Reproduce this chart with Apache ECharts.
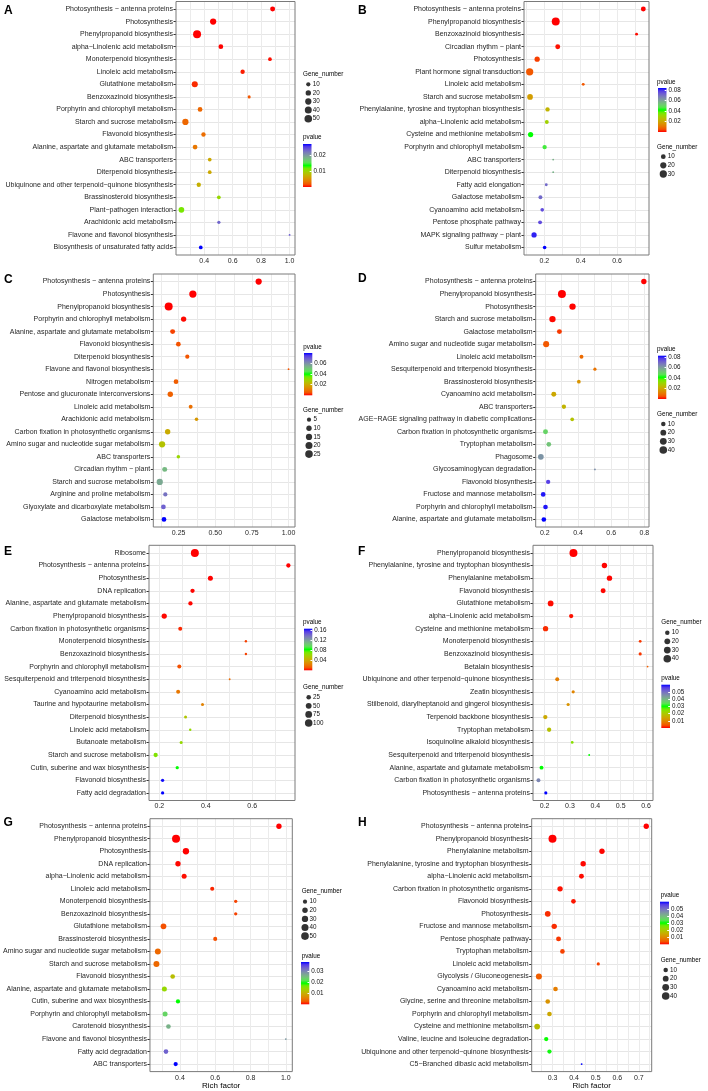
<!DOCTYPE html>
<html><head><meta charset="utf-8">
<script src="https://cdn.jsdelivr.net/npm/echarts@6/dist/echarts.min.js"></script>
<style>html,body{margin:0;padding:0;background:#fff}#c{width:708px;height:1091px}</style>
</head><body><div id="c"></div>
<script>
const M = '\u2212';
// ---------- Panel A ----------
const catsA = ['Photosynthesis '+M+' antenna proteins','Photosynthesis','Phenylpropanoid biosynthesis','alpha'+M+'Linolenic acid metabolism','Monoterpenoid biosynthesis','Linoleic acid metabolism','Glutathione metabolism','Benzoxazinoid biosynthesis','Porphyrin and chlorophyll metabolism','Starch and sucrose metabolism','Flavonoid biosynthesis','Alanine, aspartate and glutamate metabolism','ABC transporters','Diterpenoid biosynthesis','Ubiquinone and other terpenoid'+M+'quinone biosynthesis','Brassinosteroid biosynthesis','Plant'+M+'pathogen interaction','Arachidonic acid metabolism','Flavone and flavonol biosynthesis','Biosynthesis of unsaturated fatty acids'];
const richA = [0.881,0.463,0.350,0.517,0.862,0.670,0.334,0.716,0.371,0.268,0.395,0.336,0.439,0.439,0.362,0.503,0.240,0.503,1.0,0.376];
const geneA = [16,30,56,14,7,11,27,4,14,30,11,14,7,7,11,7,23,5,2,7];
const pA = [0.00001,0.00001,0.00001,0.00005,0.0003,0.0006,0.0009,0.0019,0.0027,0.0027,0.003,0.0035,0.0067,0.0067,0.0072,0.0104,0.0117,0.0235,0.024,0.0275];
const xTicksA = [0.2,0.4,0.6,0.8,1.0];
const sizeBreaksA = [10,20,30,40,50];
const pBreaksA = [0.01,0.02];
// ---------- Panel B ----------
const catsB = ['Photosynthesis '+M+' antenna proteins','Phenylpropanoid biosynthesis','Benzoxazinoid biosynthesis','Circadian rhythm '+M+' plant','Photosynthesis','Plant hormone signal transduction','Linoleic acid metabolism','Starch and sucrose metabolism','Phenylalanine, tyrosine and tryptophan biosynthesis','alpha'+M+'Linolenic acid metabolism','Cysteine and methionine metabolism','Porphyrin and chlorophyll metabolism','ABC transporters','Diterpenoid biosynthesis','Fatty acid elongation','Galactose metabolism','Cyanoamino acid metabolism','Pentose phosphate pathway','MAPK signaling pathway '+M+' plant','Sulfur metabolism'];
const richB = [0.744,0.263,0.707,0.274,0.161,0.120,0.414,0.122,0.218,0.214,0.125,0.202,0.249,0.249,0.211,0.179,0.189,0.177,0.144,0.202];
const geneB = [11,38,3,11,13,30,3,16,8,6,13,8,2,2,3,6,5,6,13,5];
const pB = [0.00001,0.00001,0.0008,0.001,0.004,0.006,0.006,0.018,0.023,0.030,0.042,0.046,0.057,0.057,0.071,0.071,0.076,0.076,0.081,0.084];
const xTicksB = [0.2,0.4,0.6];
const sizeBreaksB = [10,20,30];
const pBreaksB = [0.02,0.04,0.06,0.08];
// ---------- Panel C ----------
const catsC = ['Photosynthesis '+M+' antenna proteins','Photosynthesis','Phenylpropanoid biosynthesis','Porphyrin and chlorophyll metabolism','Alanine, aspartate and glutamate metabolism','Flavonoid biosynthesis','Diterpenoid biosynthesis','Flavone and flavonol biosynthesis','Nitrogen metabolism','Pentose and glucuronate interconversions','Linoleic acid metabolism','Arachidonic acid metabolism','Carbon fixation in photosynthetic organisms','Amino sugar and nucleotide sugar metabolism','ABC transporters','Circadian rhythm '+M+' plant','Starch and sucrose metabolism','Arginine and proline metabolism','Glyoxylate and dicarboxylate metabolism','Galactose metabolism'];
const richC = [0.796,0.347,0.182,0.284,0.209,0.248,0.309,1.0,0.232,0.193,0.332,0.372,0.175,0.137,0.248,0.155,0.121,0.159,0.146,0.150];
const geneC = [15,22,28,10,8,7,5,1,7,10,4,3,10,15,3,8,15,5,7,7];
const pC = [0.00001,0.00001,0.00001,0.0005,0.004,0.005,0.0055,0.0055,0.0065,0.007,0.009,0.016,0.020,0.025,0.030,0.053,0.056,0.066,0.069,0.080];
const xTicksC = [0.25,0.5,0.75,1.0];
const sizeBreaksC = [5,10,15,20,25];
const pBreaksC = [0.02,0.04,0.06];
// ---------- Panel D ----------
const catsD = ['Photosynthesis '+M+' antenna proteins','Phenylpropanoid biosynthesis','Photosynthesis','Starch and sucrose metabolism','Galactose metabolism','Amino sugar and nucleotide sugar metabolism','Linoleic acid metabolism','Sesquiterpenoid and triterpenoid biosynthesis','Brassinosteroid biosynthesis','Cyanoamino acid metabolism','ABC transporters','AGE'+M+'RAGE signaling pathway in diabetic complications','Carbon fixation in photosynthetic organisms','Tryptophan metabolism','Phagosome','Glycosaminoglycan degradation','Flavonoid biosynthesis','Fructose and mannose metabolism','Porphyrin and chlorophyll metabolism','Alanine, aspartate and glutamate metabolism'];
const richD = [0.797,0.303,0.367,0.246,0.288,0.208,0.421,0.502,0.405,0.254,0.315,0.365,0.204,0.224,0.176,0.502,0.220,0.190,0.204,0.194];
const geneD = [16,45,25,25,13,22,7,4,6,13,9,6,13,11,19,2,9,11,11,11];
const pD = [0.00001,0.00001,0.0002,0.0005,0.0036,0.006,0.0086,0.010,0.016,0.020,0.0227,0.026,0.050,0.053,0.062,0.063,0.077,0.081,0.081,0.083];
const xTicksD = [0.2,0.4,0.6,0.8];
const sizeBreaksD = [10,20,30,40];
const pBreaksD = [0.02,0.04,0.06,0.08];
// ---------- Panel E ----------
const catsE = ['Ribosome','Photosynthesis '+M+' antenna proteins','Photosynthesis','DNA replication','Alanine, aspartate and glutamate metabolism','Phenylpropanoid biosynthesis','Carbon fixation in photosynthetic organisms','Monoterpenoid biosynthesis','Benzoxazinoid biosynthesis','Porphyrin and chlorophyll metabolism','Sesquiterpenoid and triterpenoid biosynthesis','Cyanoamino acid metabolism','Taurine and hypotaurine metabolism','Diterpenoid biosynthesis','Linoleic acid metabolism','Butanoate metabolism','Starch and sucrose metabolism','Cutin, suberine and wax biosynthesis','Flavonoid biosynthesis','Fatty acid degradation'];
const richE = [0.353,0.756,0.420,0.343,0.334,0.221,0.290,0.573,0.573,0.286,0.503,0.281,0.386,0.313,0.333,0.294,0.184,0.277,0.214,0.214];
const geneE = [115,20,32,20,20,38,16,3,3,16,2,16,6,6,3,6,20,8,8,8];
const pE = [0.00001,0.00001,0.0002,0.0005,0.0008,0.001,0.005,0.008,0.008,0.010,0.017,0.021,0.025,0.053,0.063,0.063,0.068,0.083,0.163,0.165];
const xTicksE = [0.2,0.4,0.6];
const sizeBreaksE = [25,50,75,100];
const pBreaksE = [0.04,0.08,0.12,0.16];
// ---------- Panel F ----------
const catsF = ['Phenylpropanoid biosynthesis','Phenylalanine, tyrosine and tryptophan biosynthesis','Phenylalanine metabolism','Flavonoid biosynthesis','Glutathione metabolism','alpha'+M+'Linolenic acid metabolism','Cysteine and methionine metabolism','Monoterpenoid biosynthesis','Benzoxazinoid biosynthesis','Betalain biosynthesis','Ubiquinone and other terpenoid'+M+'quinone biosynthesis','Zeatin biosynthesis','Stilbenoid, diarylheptanoid and gingerol biosynthesis','Terpenoid backbone biosynthesis','Tryptophan metabolism','Isoquinoline alkaloid biosynthesis','Sesquiterpenoid and triterpenoid biosynthesis','Alanine, aspartate and glutamate metabolism','Carbon fixation in photosynthetic organisms','Photosynthesis '+M+' antenna proteins'];
const richF = [0.314,0.436,0.456,0.431,0.224,0.305,0.204,0.577,0.577,0.606,0.250,0.313,0.293,0.203,0.218,0.309,0.376,0.188,0.176,0.205];
const geneF = [45,16,16,13,19,9,16,3,4,2,7,4,4,9,9,3,2,7,7,4];
const pF = [0.00001,0.0002,0.0002,0.0003,0.0005,0.0008,0.002,0.0025,0.0025,0.005,0.0085,0.0095,0.0115,0.0145,0.0185,0.024,0.030,0.030,0.047,0.060];
const xTicksF = [0.2,0.3,0.4,0.5,0.6];
const sizeBreaksF = [10,20,30,40];
const pBreaksF = [0.01,0.02,0.03,0.04,0.05];
// ---------- Panel G ----------
const catsG = ['Photosynthesis '+M+' antenna proteins','Phenylpropanoid biosynthesis','Photosynthesis','DNA replication','alpha'+M+'Linolenic acid metabolism','Linoleic acid metabolism','Monoterpenoid biosynthesis','Benzoxazinoid biosynthesis','Glutathione metabolism','Brassinosteroid biosynthesis','Amino sugar and nucleotide sugar metabolism','Starch and sucrose metabolism','Flavonoid biosynthesis','Alanine, aspartate and glutamate metabolism','Cutin, suberine and wax biosynthesis','Porphyrin and chlorophyll metabolism','Carotenoid biosynthesis','Flavone and flavonol biosynthesis','Fatty acid degradation','ABC transporters'];
const richG = [0.961,0.378,0.434,0.389,0.424,0.583,0.716,0.716,0.307,0.600,0.275,0.267,0.359,0.312,0.389,0.316,0.335,1.0,0.321,0.376];
const geneG = [19,55,30,19,16,9,5,5,23,9,26,26,13,16,10,16,13,2,13,10];
const pG = [0.00001,0.00001,0.00005,0.0002,0.0004,0.0011,0.0019,0.0019,0.0023,0.0023,0.0038,0.0038,0.0114,0.0144,0.019,0.0228,0.0258,0.028,0.0327,0.038];
const xTicksG = [0.4,0.6,0.8,1.0];
const sizeBreaksG = [10,20,30,40,50];
const pBreaksG = [0.01,0.02,0.03];
// ---------- Panel H ----------
const catsH = ['Photosynthesis '+M+' antenna proteins','Phenylpropanoid biosynthesis','Phenylalanine metabolism','Phenylalanine, tyrosine and tryptophan biosynthesis','alpha'+M+'Linolenic acid metabolism','Carbon fixation in photosynthetic organisms','Flavonoid biosynthesis','Photosynthesis','Fructose and mannose metabolism','Pentose phosphate pathway','Tryptophan metabolism','Linoleic acid metabolism','Glycolysis / Gluconeogenesis','Cyanoamino acid metabolism','Glycine, serine and threonine metabolism','Porphyrin and chlorophyll metabolism','Cysteine and methionine metabolism','Valine, leucine and isoleucine degradation','Ubiquinone and other terpenoid'+M+'quinone biosynthesis','C5'+M+'Branched dibasic acid metabolism'];
const richH = [0.734,0.300,0.529,0.442,0.434,0.335,0.397,0.278,0.308,0.328,0.346,0.512,0.237,0.314,0.278,0.286,0.229,0.271,0.286,0.435];
const geneH = [16,45,16,16,13,16,11,19,16,13,11,4,22,11,11,11,19,9,9,2];
const pH = [0.00001,0.00001,0.0002,0.0003,0.0005,0.0008,0.001,0.002,0.002,0.0025,0.003,0.003,0.005,0.0085,0.0115,0.0145,0.018,0.030,0.031,0.0605];
const xTicksH = [0.3,0.4,0.5,0.6,0.7];
const sizeBreaksH = [10,20,30,40];
const pBreaksH = [0.01,0.02,0.03,0.04,0.05];

const panels = [
  {id:'A', cats:catsA, rich:richA, gene:geneA, p:pA, xTicks:xTicksA, sizeBreaks:sizeBreaksA, pBreaks:pBreaksA},
  {id:'B', cats:catsB, rich:richB, gene:geneB, p:pB, xTicks:xTicksB, sizeBreaks:sizeBreaksB, pBreaks:pBreaksB},
  {id:'C', cats:catsC, rich:richC, gene:geneC, p:pC, xTicks:xTicksC, sizeBreaks:sizeBreaksC, pBreaks:pBreaksC},
  {id:'D', cats:catsD, rich:richD, gene:geneD, p:pD, xTicks:xTicksD, sizeBreaks:sizeBreaksD, pBreaks:pBreaksD},
  {id:'E', cats:catsE, rich:richE, gene:geneE, p:pE, xTicks:xTicksE, sizeBreaks:sizeBreaksE, pBreaks:pBreaksE},
  {id:'F', cats:catsF, rich:richF, gene:geneF, p:pF, xTicks:xTicksF, sizeBreaks:sizeBreaksF, pBreaks:pBreaksF},
  {id:'G', cats:catsG, rich:richG, gene:geneG, p:pG, xTicks:xTicksG, sizeBreaks:sizeBreaksG, pBreaks:pBreaksG},
  {id:'H', cats:catsH, rich:richH, gene:geneH, p:pH, xTicks:xTicksH, sizeBreaks:sizeBreaksH, pBreaks:pBreaksH}
];

// ---------- layout (pixels) ----------
const layout = {
  A:{plot:[176,1.5,295,255], letter:[4,11], sTitle:[303,74], sKey:[308.3,84.3,8.6], pTitle:[303,137.7], pBar:[303,144,8.5,43], dec:1},
  B:{plot:[524,1.5,649,255], letter:[358,10.5], pTitle:[657,82], pBar:[658,88,8.5,44], sTitle:[657,147], sKey:[663.3,156.7,8.65], dec:1},
  C:{plot:[153.3,274,295,527], letter:[4,279.5], pTitle:[303.3,347], pBar:[304,353,8.3,42.3], sTitle:[303,410.7], sKey:[309,419.7,8.6], dec:2},
  D:{plot:[535.7,274,649,527], letter:[358,279], pTitle:[657,349.7], pBar:[658,355.7,8.3,43.3], sTitle:[657,414], sKey:[663.3,424,8.67], dec:1},
  E:{plot:[149,545.3,295,800.5], letter:[4,552], pTitle:[303,622], pBar:[304,628.7,8.3,41.6], sTitle:[303,687], sKey:[308.7,697.3,8.57], dec:1},
  F:{plot:[533,545.3,653,800.5], letter:[358,552], sTitle:[661.3,622], sKey:[667.3,632.7,8.67], pTitle:[661.3,678.7], pBar:[661.3,684.7,8.7,43.3], dec:1},
  G:{plot:[147.7,818.7,292.3,1073.5], letter:[3.5,823], sTitle:[301.7,891.7], sKey:[305,901.7,8.6], pTitle:[301.7,956], pBar:[301,962,8.3,42.3], dec:1, xName:'Rich factor'},
  H:{plot:[531.7,818.7,651.7,1073.5], letter:[358,823], pTitle:[660.7,895.3], pBar:[660,901.7,9,42.6], sTitle:[660.7,960], sKey:[665.7,970,8.67], dec:1, xName:'Rich factor'}
};

const FONT = '"Liberation Sans", Arial, Helvetica, sans-serif';
const PAL = ['#FF0000','#F45300','#E87600','#DA9200','#C9AB00','#B3C200','#98D700','#70EB00','#00FF00','#57E44F','#6FC972','#7BAE8D','#7D93A6','#7978BD','#6C5BD3','#533AE9','#0000FF'];
const stops = PAL.map((c,i)=>({offset:i/(PAL.length-1), color:c}));
const TXT = '#262626';

const grid=[], xAxis=[], yAxis=[], series=[], visualMap=[], graphic=[];

panels.forEach(P => {
  const L = layout[P.id];
  const n = P.cats.length;
  const gmin = Math.min(...P.gene), gmax = Math.max(...P.gene);
  const sz = g => 1.23*(1.5 + 5*Math.sqrt(Math.max(0,(g-gmin)/(gmax-gmin))));
  const rmin = Math.min(...P.rich), rmax = Math.max(...P.rich), rs = rmax - rmin;
  const xmin = rmin - 0.05*rs, xmax = rmax + 0.05*rs;
  const half = (P.xTicks[1]-P.xTicks[0])/2;
  const gridVals = [];
  for (let k = -1; ; k++) {
    const v = +(P.xTicks[0] + k*half).toFixed(5);
    if (v > xmax) break;
    if (v >= xmin) gridVals.push(v);
  }
  const pmin = Math.min(...P.p), pmax = Math.max(...P.p);

  // main plot
  const gi = grid.length;
  grid.push({left:L.plot[0], top:L.plot[1], width:L.plot[2]-L.plot[0], height:L.plot[3]-L.plot[1],
    show:true, z:10, backgroundColor:'transparent', borderColor:'#7a7a7a', borderWidth:1});
  xAxis.push({gridIndex:gi, type:'value', min:xmin, max:xmax,
    axisLine:{show:false}, splitLine:{show:false},
    axisTick:{show:true, customValues:P.xTicks, length:2.5, lineStyle:{color:'#333', width:1}},
    axisLabel:{customValues:P.xTicks, formatter:v=>(+v).toFixed(L.dec), fontSize:7, fontFamily:FONT, color:TXT, margin:2.5},
    name:L.xName||'', nameLocation:'middle', nameGap:9.5,
    nameTextStyle:{fontSize:8, fontFamily:FONT, color:'#000', verticalAlign:'top'}});
  const yIdx = P.cats.map((c,i)=>i);
  yAxis.push({gridIndex:gi, type:'value', inverse:true, min:-0.6, max:n-0.4, splitNumber:n, minInterval:1, maxInterval:1,
    axisLine:{show:false},
    axisTick:{show:true, customValues:yIdx, length:2.5, lineStyle:{color:'#333', width:1}},
    splitLine:{show:true, lineStyle:{color:'#e6e6e6', width:1.2}},
    axisLabel:{customValues:yIdx, formatter:v=>P.cats[Math.round(v)]||'', fontSize:7, fontFamily:FONT, color:TXT, margin:3}});
  series.push({type:'scatter', xAxisIndex:gi, yAxisIndex:gi, z:3,
    data:P.cats.map((c,i)=>[P.rich[i], i, P.p[i], P.gene[i]]),
    symbolSize:d=>sz(d[3]), itemStyle:{opacity:1}, emphasis:{disabled:true}, animation:false,
    markLine:{silent:true, z:1, symbol:['none','none'], animation:false, label:{show:false}, emphasis:{disabled:true},
      lineStyle:{color:'#ebebeb', width:1, type:'solid'}, data:gridVals.map(v=>({xAxis:v}))}});
  visualMap.push({type:'continuous', show:false, seriesIndex:series.length-1, dimension:2, min:pmin, max:pmax, inRange:{color:PAL}});

  // size legend
  const si = grid.length;
  grid.push({left:L.sKey[0]-3, top:L.sKey[1]-L.sKey[2]/2, width:6, height:L.sKey[2]*P.sizeBreaks.length});
  xAxis.push({gridIndex:si, type:'value', min:-1, max:1, show:false});
  yAxis.push({gridIndex:si, type:'category', inverse:true, position:'right', data:P.sizeBreaks.map(String),
    axisLine:{show:false}, axisTick:{show:false}, splitLine:{show:false},
    axisLabel:{interval:0, fontSize:6.3, fontFamily:FONT, color:'#111', margin:1.4}});
  series.push({type:'scatter', xAxisIndex:si, yAxisIndex:si, silent:true, animation:false,
    data:P.sizeBreaks.map((b,i)=>[0,i,b]), symbolSize:d=>sz(d[2]), itemStyle:{color:'#000'}});

  // colour bar
  const ci = grid.length;
  grid.push({left:L.pBar[0], top:L.pBar[1], width:L.pBar[2], height:L.pBar[3]});
  xAxis.push({gridIndex:ci, type:'category', data:['p'], show:false});
  yAxis.push({gridIndex:ci, type:'value', min:pmin, max:pmax, position:'right', z:5,
    axisLine:{show:false}, splitLine:{show:false},
    axisTick:{show:true, inside:true, length:1.8, customValues:P.pBreaks, lineStyle:{color:'#fff', width:1}},
    axisLabel:{customValues:P.pBreaks, formatter:v=>String(+(+v).toFixed(4)), fontSize:6.3, fontFamily:FONT, color:'#111', margin:2}});
  series.push({type:'bar', xAxisIndex:ci, yAxisIndex:ci, silent:true, animation:false, data:[pmax], barWidth:'100%',
    itemStyle:{color:new echarts.graphic.LinearGradient(0,1,0,0,stops)}});

  // texts
  graphic.push({type:'text', x:L.letter[0], y:L.letter[1], style:{text:P.id, fontSize:12, fontWeight:'bold', fontFamily:FONT, fill:'#000', verticalAlign:'middle'}});
  graphic.push({type:'text', x:L.sTitle[0], y:L.sTitle[1], style:{text:'Gene_number', fontSize:6.3, fontFamily:FONT, fill:'#000', verticalAlign:'middle'}});
  graphic.push({type:'text', x:L.pTitle[0], y:L.pTitle[1], style:{text:'pvalue', fontSize:6.3, fontFamily:FONT, fill:'#000', verticalAlign:'middle'}});
});

const chart = echarts.init(document.getElementById('c'), null, {renderer:'canvas', width:708, height:1091});
chart.setOption({animation:false, backgroundColor:'#fff', grid, xAxis, yAxis, series, visualMap, graphic});
</script></body></html>
